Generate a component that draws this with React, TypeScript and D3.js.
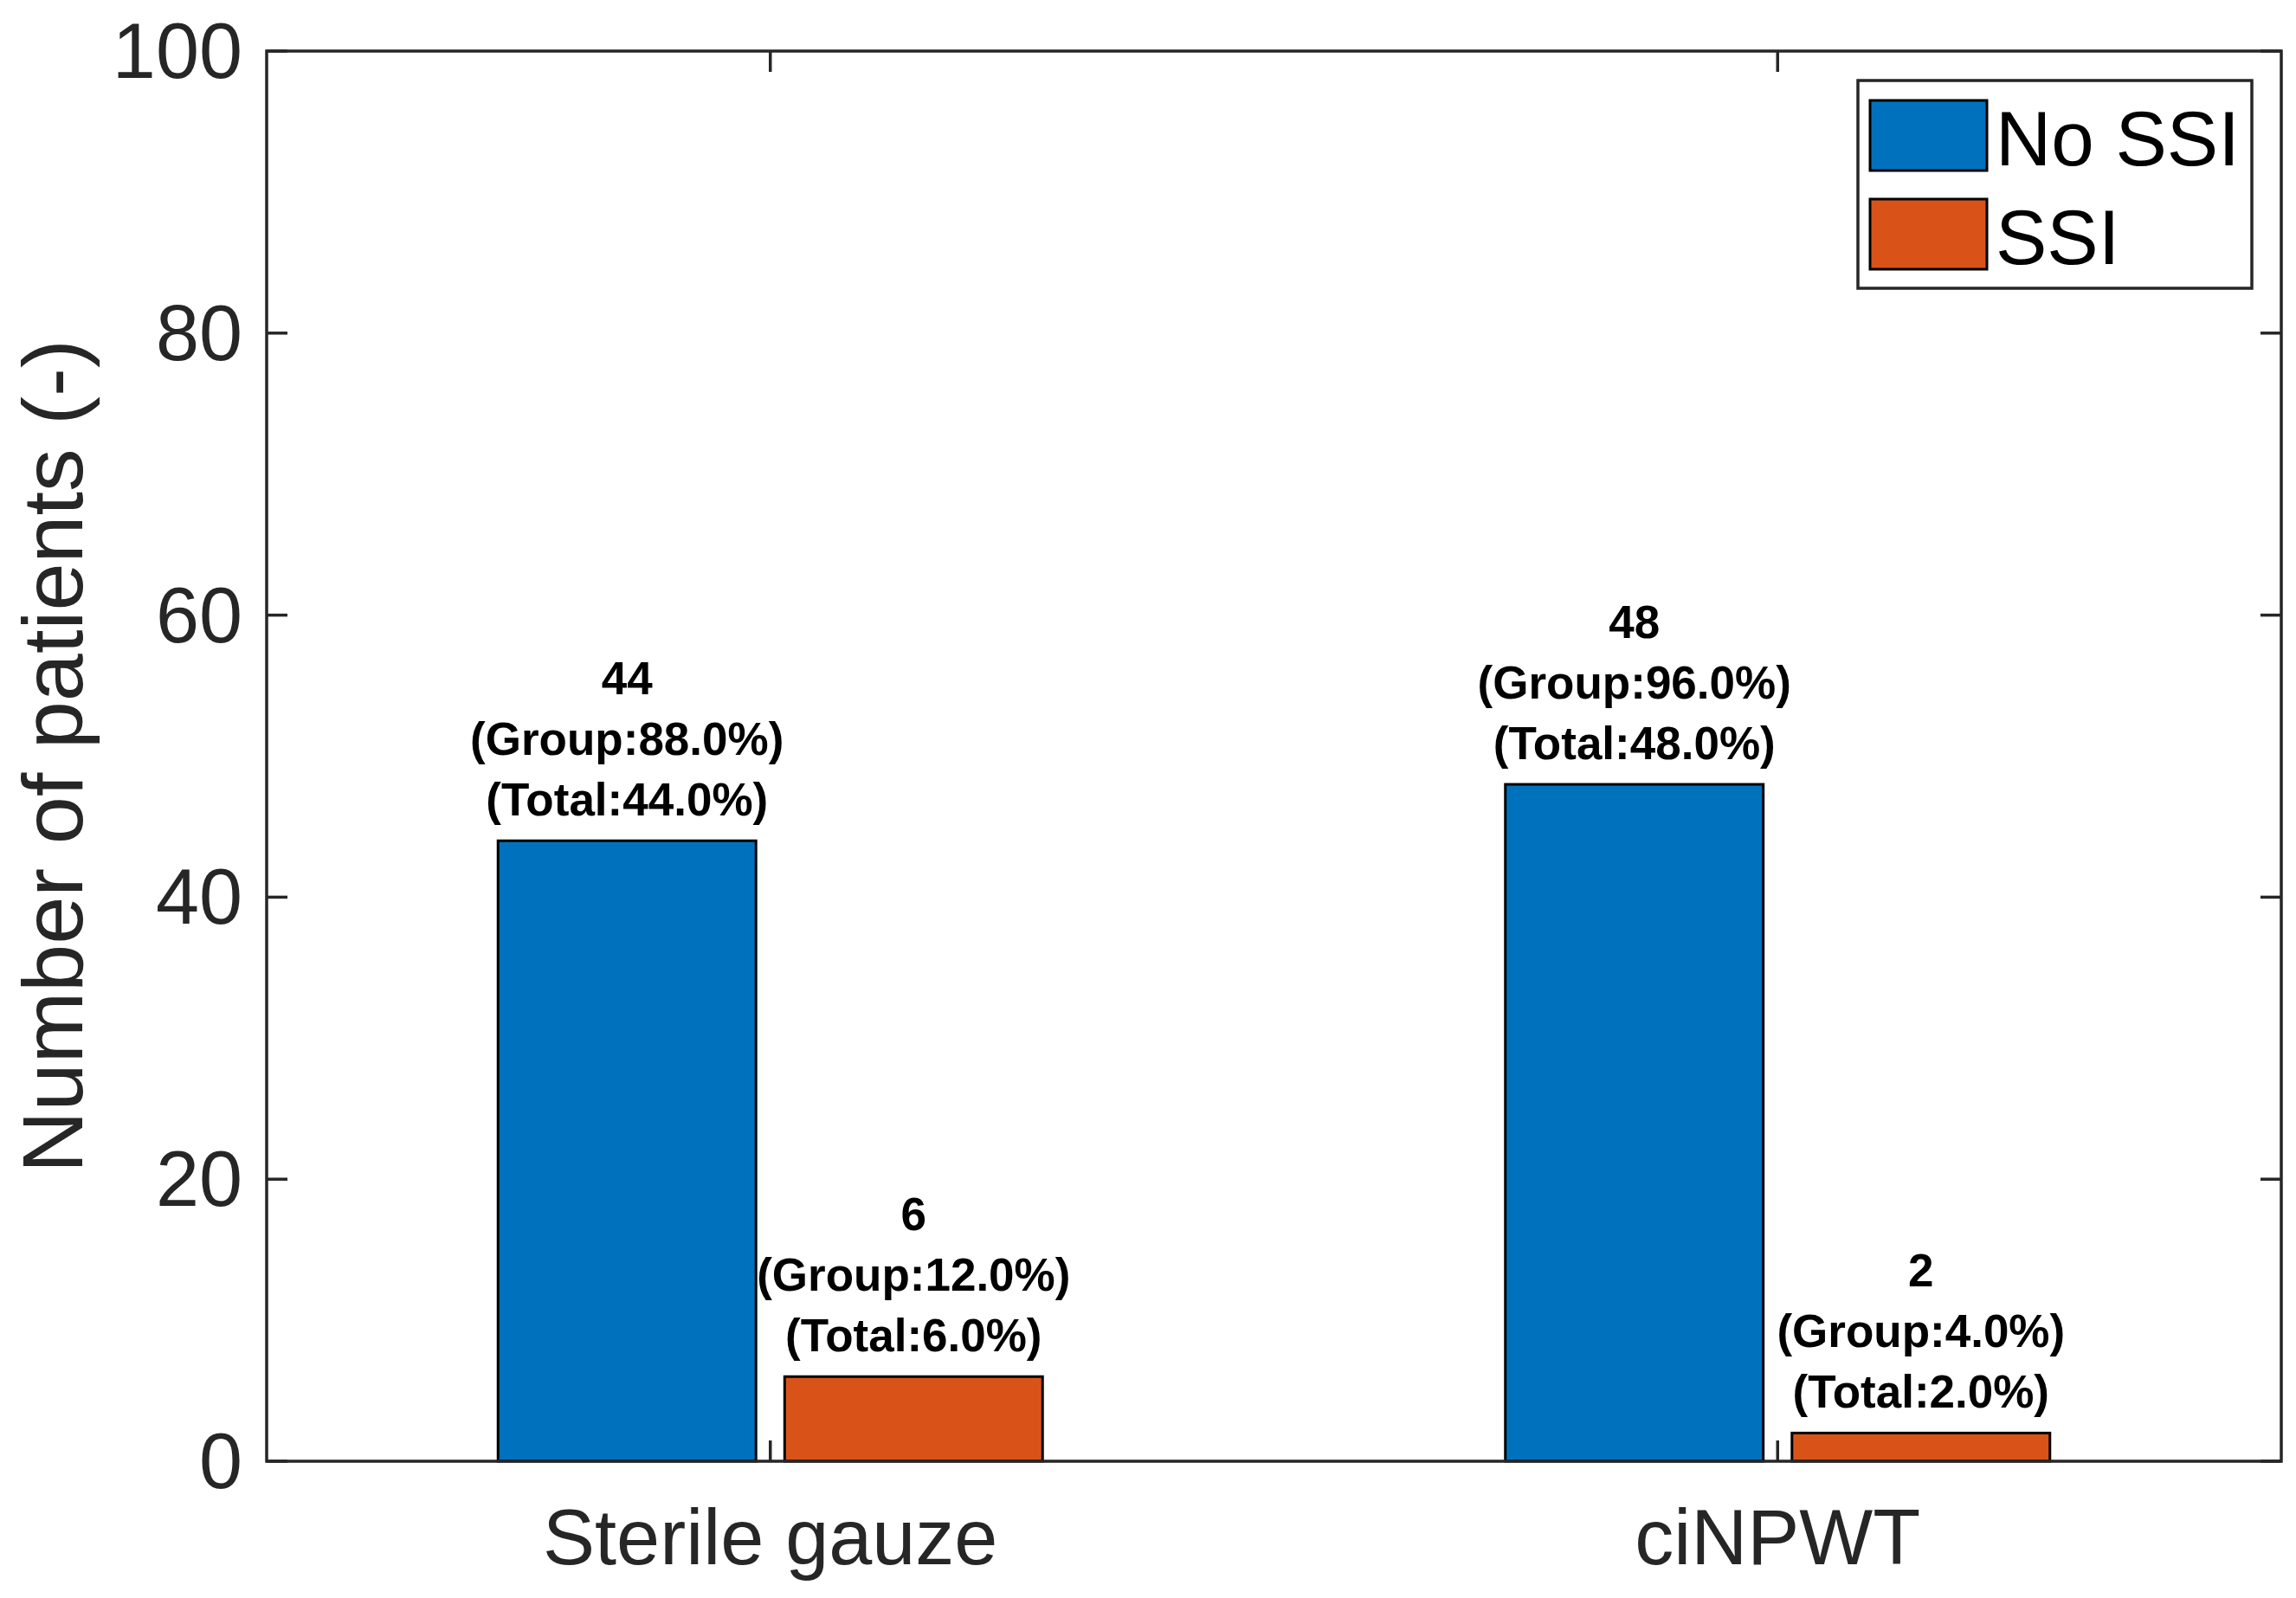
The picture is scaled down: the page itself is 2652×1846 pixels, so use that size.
import * as d3 from "d3";

const categories = ["Sterile gauze", "ciNPWT"];
const seriesNames = ["No SSI", "SSI"];
const noSsiCounts = [44, 48];
const ssiCounts = [6, 2];
const yTicks = [0, 20, 40, 60, 80, 100];

const seriesColors = ["#0072BD", "#D95319"];

export default function App() {
  const W = 2652;
  const H = 1846;
  const margin = { top: 59, right: 17, bottom: 158, left: 308 };
  const innerW = W - margin.left - margin.right;
  const innerH = H - margin.top - margin.bottom;

  const axisColor = "#262626";
  const font = "'Liberation Sans', Arial, sans-serif";

  const counts = [noSsiCounts, ssiCounts];
  const total = d3.sum(noSsiCounts) + d3.sum(ssiCounts);
  const groupTotals = categories.map((_, i) => noSsiCounts[i] + ssiCounts[i]);

  const x = d3.scaleBand().domain(categories).range([0, innerW]).padding(0);
  const groupWidth = 629;
  const xSub = d3
    .scaleBand()
    .domain(seriesNames)
    .range([(x.bandwidth() - groupWidth) / 2, (x.bandwidth() + groupWidth) / 2])
    .paddingInner(0.1);
  const y = d3.scaleLinear().domain([0, 100]).range([innerH, 0]);

  const tickLen = 24;
  const lineH = 70;

  return (
    <div style={{ position: "absolute", left: 0, top: 0 }}>
      <svg width={W} height={H} style={{ display: "block", background: "#fff" }}>
        <g transform={`translate(${margin.left},${margin.top})`}>
          {/* bars */}
          {categories.map((cat, ci) =>
            seriesNames.map((s, si) => {
              const v = counts[si][ci];
              const bx = (x(cat) || 0) + (xSub(s) || 0);
              return (
                <rect
                  key={`${cat}-${s}`}
                  x={bx}
                  y={y(v)}
                  width={xSub.bandwidth()}
                  height={y(0) - y(v)}
                  fill={seriesColors[si]}
                  stroke="#000"
                  strokeWidth={3}
                />
              );
            })
          )}

          {/* value labels */}
          {categories.map((cat, ci) =>
            seriesNames.map((s, si) => {
              const v = counts[si][ci];
              const cx = (x(cat) || 0) + (xSub(s) || 0) + xSub.bandwidth() / 2;
              const base = y(v) - 29;
              const lines = [
                `${v}`,
                `(Group:${((v / groupTotals[ci]) * 100).toFixed(1)}%)`,
                `(Total:${((v / total) * 100).toFixed(1)}%)`,
              ];
              return (
                <g key={`lab-${cat}-${s}`}>
                  {lines.map((t, li) => (
                    <text
                      key={li}
                      x={cx}
                      y={base - (lines.length - 1 - li) * lineH}
                      textAnchor="middle"
                      fontFamily={font}
                      fontWeight="bold"
                      fontSize={53}
                      fill="#000"
                    >
                      {t}
                    </text>
                  ))}
                </g>
              );
            })
          )}

          {/* box */}
          <rect
            x={0}
            y={0}
            width={innerW}
            height={innerH}
            fill="none"
            stroke={axisColor}
            strokeWidth={3.5}
          />

          {/* y ticks, left and right */}
          {yTicks.map((t) => (
            <g key={`yt-${t}`}>
              <line x1={0} x2={tickLen} y1={y(t)} y2={y(t)} stroke={axisColor} strokeWidth={3.5} />
              <line
                x1={innerW - tickLen}
                x2={innerW}
                y1={y(t)}
                y2={y(t)}
                stroke={axisColor}
                strokeWidth={3.5}
              />
              <text
                x={-28}
                y={y(t)}
                textAnchor="end"
                dominantBaseline="central"
                fontFamily={font}
                fontSize={90}
                fill={axisColor}
              >
                {t}
              </text>
            </g>
          ))}

          {/* x ticks, bottom and top */}
          {categories.map((cat) => {
            const cx = (x(cat) || 0) + x.bandwidth() / 2;
            return (
              <g key={`xt-${cat}`}>
                <line x1={cx} x2={cx} y1={innerH} y2={innerH - tickLen} stroke={axisColor} strokeWidth={3.5} />
                <line x1={cx} x2={cx} y1={0} y2={tickLen} stroke={axisColor} strokeWidth={3.5} />
                <text
                  x={cx}
                  y={innerH + 119}
                  textAnchor="middle"
                  fontFamily={font}
                  fontSize={90}
                  fill={axisColor}
                >
                  {cat}
                </text>
              </g>
            );
          })}

          {/* y axis label */}
          <text
            transform={`translate(${95 - margin.left},${innerH / 2}) rotate(-90)`}
            textAnchor="middle"
            fontFamily={font}
            fontSize={99}
            fill={axisColor}
          >
            Number of patients (-)
          </text>
        </g>

        {/* legend */}
        <g>
          <rect x={2146} y={93} width={455} height={240} fill="#fff" stroke={axisColor} strokeWidth={3.5} />
          {seriesNames.map((s, i) => (
            <g key={`leg-${s}`} transform={`translate(0,${i * 114})`}>
              <rect x={2160} y={116} width={135} height={81} fill={seriesColors[i]} stroke="#000" strokeWidth={3} />
              <text x={2305} y={191} fontFamily={font} fontSize={89} fill="#000">
                {s}
              </text>
            </g>
          ))}
        </g>
      </svg>
    </div>
  );
}
